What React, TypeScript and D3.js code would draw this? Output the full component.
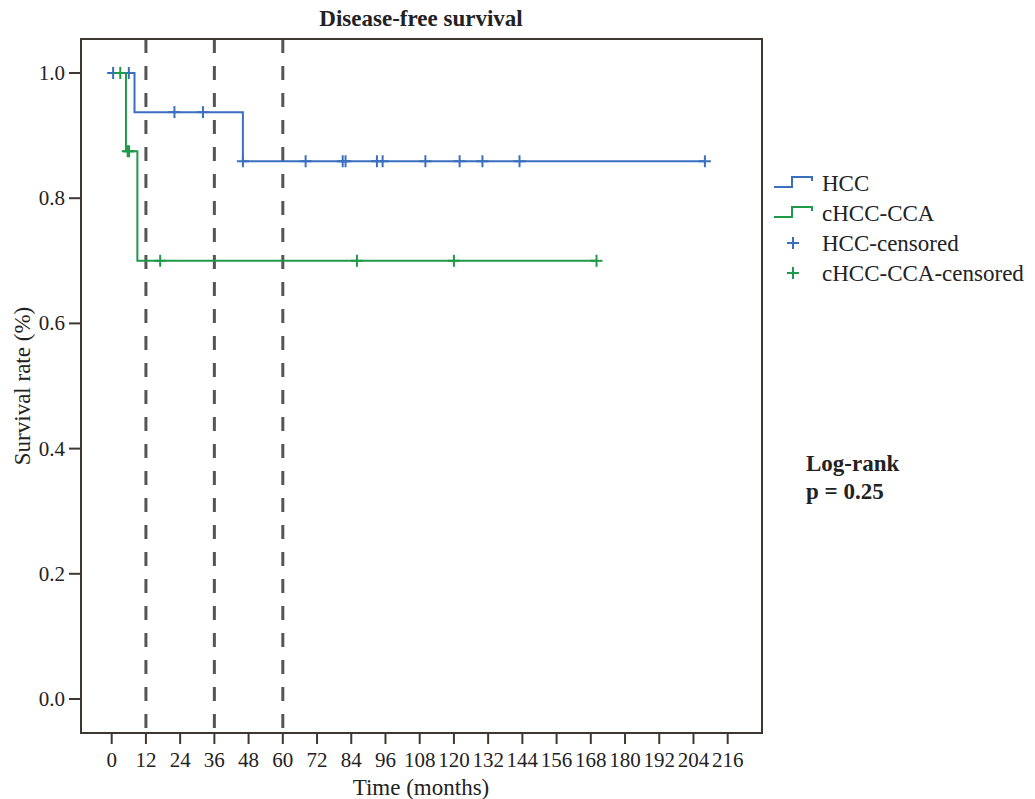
import React from 'react';
import * as d3 from 'd3';

// Kaplan-Meier steps: [month, survival]
const hccSteps: [number, number][] = [[0, 1], [8, 0.9375], [46, 0.859], [208, 0.859]];
const cccaSteps: [number, number][] = [[0, 1], [5, 0.875], [9, 0.7], [170, 0.7]];
const hccCensored = [0.5, 6, 22, 32, 46, 68, 81, 82, 93, 95, 110, 122, 130, 143, 208];
const cccaCensored = [3, 5.6, 6.1, 17, 86, 120, 170];
const xTicks = d3.range(0, 217, 12);
const yTicks = [0, 0.2, 0.4, 0.6, 0.8, 1.0];
const refLines = [12, 36, 60];
const legendItems = ['HCC', 'cHCC-CCA', 'HCC-censored', 'cHCC-CCA-censored'];

const BLUE = '#3a6fbf';
const GREEN = '#1f9a4a';
const AXIS = '#3d3834';
const FONT = '"Liberation Serif", "Times New Roman", serif';

const frame = { left: 81, top: 39, right: 762, bottom: 733 };
const x = d3.scaleLinear().domain([0, 216]).range([111.7, 727.7]);
const y = d3.scaleLinear().domain([0, 1]).range([699, 73]);

const line = d3.line<[number, number]>()
  .x(d => x(d[0]))
  .y(d => y(d[1]))
  .curve(d3.curveStepAfter);

// survival value at time t from the step table
function survAt(steps: [number, number][], t: number) {
  let s = steps[0][1];
  for (const [m, v] of steps) if (m <= t) s = v;
  return s;
}

function Cross({ cx, cy, color }: { cx: number; cy: number; color: string }) {
  return (
    <g stroke={color} strokeWidth={2}>
      <line x1={cx - 6} x2={cx + 6} y1={cy} y2={cy} />
      <line x1={cx} x2={cx} y1={cy - 6} y2={cy + 6} />
    </g>
  );
}

export default function App() {
  const legendColors = [BLUE, GREEN, BLUE, GREEN];
  return (
    <svg width={1035} height={799} style={{ position: 'absolute', left: 0, top: 0, background: '#fff' }}
      fontFamily={FONT}>
      <text x={421} y={26} textAnchor="middle" fontSize={23} fontWeight="bold" fill="#222">
        Disease-free survival
      </text>

      {/* reference dashed lines */}
      {refLines.map(m => (
        <line key={m} x1={x(m)} x2={x(m)} y1={frame.top} y2={frame.bottom}
          stroke="#555" strokeWidth={3} strokeDasharray="14,13" />
      ))}

      {/* curves */}
      <path d={line(hccSteps) || ''} fill="none" stroke={BLUE} strokeWidth={2} />
      <path d={line(cccaSteps) || ''} fill="none" stroke={GREEN} strokeWidth={2} />
      {hccCensored.map((m, i) => (
        <Cross key={'h' + i} cx={x(m)} cy={y(survAt(hccSteps, m))} color={BLUE} />
      ))}
      {cccaCensored.map((m, i) => (
        <Cross key={'c' + i} cx={x(m)} cy={y(survAt(cccaSteps, m))} color={GREEN} />
      ))}

      {/* frame */}
      <rect x={frame.left} y={frame.top} width={frame.right - frame.left} height={frame.bottom - frame.top}
        fill="none" stroke={AXIS} strokeWidth={2} />

      {/* y axis */}
      {yTicks.map(t => (
        <g key={t}>
          <line x1={69} x2={frame.left} y1={y(t)} y2={y(t)} stroke={AXIS} strokeWidth={2} />
          <text x={65} y={y(t) + 7} textAnchor="end" fontSize={21} fill="#222">{t.toFixed(1)}</text>
        </g>
      ))}
      <text transform={`translate(30,386) rotate(-90)`} textAnchor="middle" fontSize={23} fill="#222">
        Survival rate (%)
      </text>

      {/* x axis */}
      {xTicks.map(t => (
        <g key={t}>
          <line x1={x(t)} x2={x(t)} y1={frame.bottom} y2={frame.bottom + 11} stroke={AXIS} strokeWidth={2} />
          <text x={x(t)} y={767} textAnchor="middle" fontSize={21} fill="#222">{t}</text>
        </g>
      ))}
      <text x={421} y={795} textAnchor="middle" fontSize={23} fill="#222">Time (months)</text>

      {/* legend */}
      {legendItems.map((label, i) => {
        const cy = 183 + i * 30;
        const c = legendColors[i];
        return (
          <g key={label}>
            {i < 2 ? (
              <path d={`M774,${cy + 4}H792V${cy - 6}H812V${cy - 2}`} fill="none" stroke={c} strokeWidth={2} />
            ) : (
              <Cross cx={793} cy={cy} color={c} />
            )}
            <text x={822} y={cy + 8} fontSize={23} fill="#222">{label}</text>
          </g>
        );
      })}

      <text x={806} y={471} fontSize={23} fontWeight="bold" fill="#222">Log-rank</text>
      <text x={806} y={499} fontSize={23} fontWeight="bold" fill="#222">p = 0.25</text>
    </svg>
  );
}
